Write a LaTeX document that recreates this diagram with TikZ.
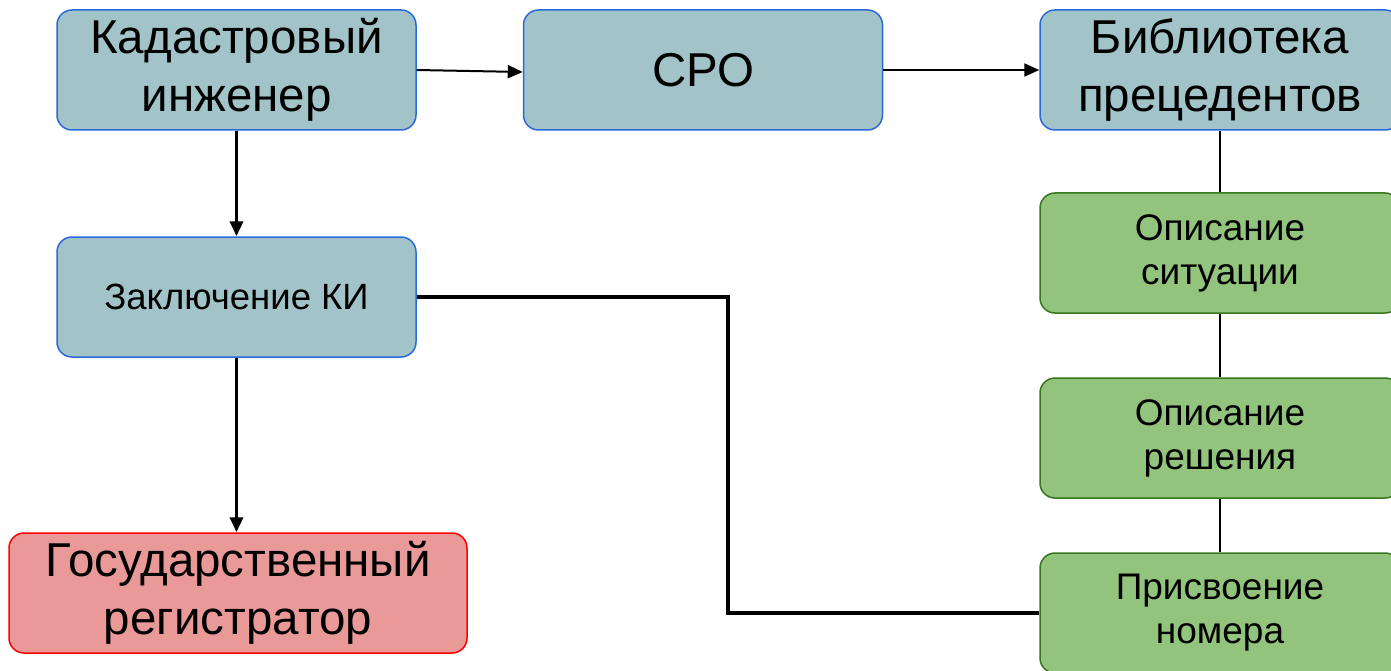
\documentclass[tikz,border=0pt]{standalone}
\usepackage{fontspec}
\setmainfont{Liberation Sans}
\usepackage{xcolor}
\usetikzlibrary{calc,
	positioning,
	arrows.meta}

\definecolor{bluefill}{HTML}{A2C4C9}
\definecolor{blueline}{HTML}{2A6AD8}
\definecolor{redfill}{HTML}{EA9999}
\definecolor{redline}{HTML}{FF0000}
\definecolor{greenfill}{HTML}{93C47D}
\definecolor{greenline}{HTML}{38761D}

\begin{document}
\begin{tikzpicture}[x=1pt, y=-1pt,
	box/.style={draw, line width=1.5pt, rounded corners=15pt, align=center,
		minimum width=359pt, minimum height=120pt, inner sep=0pt},
	bluebox/.style={box, fill=bluefill, draw=blueline},
	redbox/.style={box, fill=redfill, draw=redline, minimum width=458pt},
	greenbox/.style={box, fill=greenfill, draw=greenline, minimum width=360pt,
		font=\fontsize{37}{44}\selectfont},
	big/.style={font=\fontsize{47.5}{58}\selectfont},
	small/.style={font=\fontsize{36.5}{44}\selectfont},
	>={Triangle[length=15pt,width=13pt]}]
	\clip (0,0) rectangle (1391,671);
	% top row
	\node[bluebox, big] (kadengineer) at (236.5,70) {Кадастровый\\инженер};
	\node[bluebox, big] (sro) at (703,70) {СРО};
	\node[bluebox, big, minimum width=360pt] (library) at (1220,70) {Библиотека\\прецедентов};
	% left column
	\node[bluebox, small] (conclusion) at (236.5,297) {Заключение КИ};
	\node[redbox, big] (registrar) at (238,593) {Государственный\\регистратор};
	% library records
	\node[greenbox] (situation) at (1220,253) {Описание\\ситуации};
	\node[greenbox] (solution) at (1220,438) {Описание\\решения};
	\node[greenbox] (numbering) at (1220,613) {Присвоение\\номера};

	\draw[line width=2pt,->] (kadengineer.east) -- ([yshift=-2pt]sro.west);
	\draw[line width=2pt,->] (sro.east) -- (library.west);
	\draw[line width=3.5pt,->] (kadengineer.south) -- (conclusion.north);
	\draw[line width=3.5pt,->] (conclusion.south) -- (registrar.north -| conclusion.south);
	\draw[line width=3.5pt] (conclusion.east) -| ($(conclusion.east)!0.5!(numbering.west)$) |- (numbering.west);
	\foreach \from/\to in {library/situation,situation/solution,solution/numbering} {
		\draw[line width=1.5pt] (\from.south) -- (\to.north);
	}
\end{tikzpicture}
\end{document}
